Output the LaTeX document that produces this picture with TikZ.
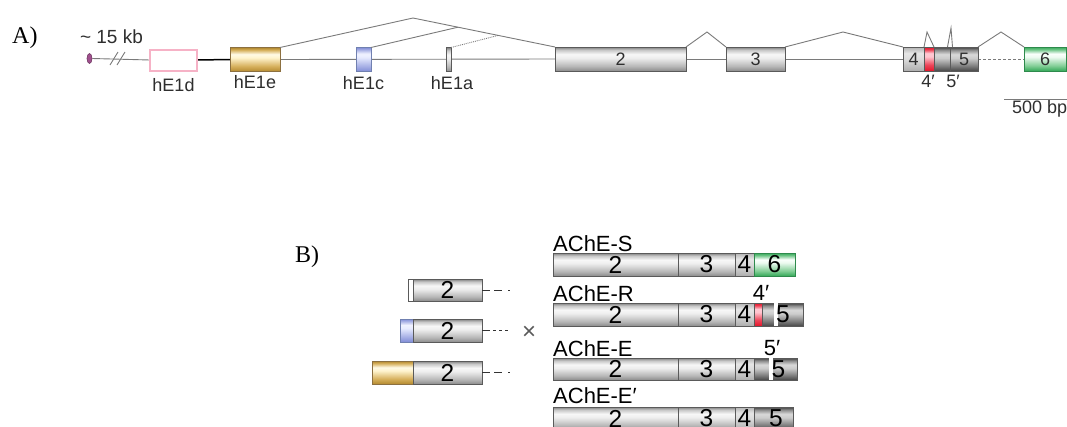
\documentclass[tikz,border=0pt]{standalone}
\usepackage{fontspec}
\setmainfont{Liberation Sans}
\newfontfamily\seriffont{Liberation Serif}
\usetikzlibrary{backgrounds,calc,shapes.geometric}
\definecolor{introncol}{HTML}{7A7A7A}
\definecolor{exedge}{HTML}{5A5A5A}
\definecolor{golddraw}{HTML}{8C7040}
\definecolor{bluedraw}{HTML}{7080B0}
\definecolor{greendraw}{HTML}{2E8A4C}
\definecolor{pinkline}{HTML}{F6B2C6}
\definecolor{purp}{HTML}{A0508E}
\definecolor{lbltxt}{HTML}{2E2E2E}
% vertical shadings: 25bp = bottom edge, 75bp = top edge
\pgfdeclareverticalshading{gshade}{100bp}{color(0bp)=(black!45); color(25bp)=(black!45); color(35bp)=(black!28); color(52bp)=(black!7); color(60bp)=(black!3); color(69bp)=(black!22); color(75bp)=(black!50); color(100bp)=(black!50)}
\pgfdeclareverticalshading{dshade}{100bp}{color(0bp)=(black!72); color(25bp)=(black!72); color(36bp)=(black!50); color(52bp)=(black!20); color(60bp)=(black!15); color(69bp)=(black!45); color(75bp)=(black!75); color(100bp)=(black!75)}
\pgfdeclareverticalshading{lshade}{100bp}{color(0bp)=(black!32); color(25bp)=(black!32); color(50bp)=(black!14); color(62bp)=(black!10); color(75bp)=(black!30); color(100bp)=(black!30)}
\pgfdeclareverticalshading{goldshade}{100bp}{color(0bp)=(rgb,255:red,180;green,138;blue,48); color(25bp)=(rgb,255:red,180;green,138;blue,48); color(36bp)=(rgb,255:red,214;green,176;blue,92); color(54bp)=(rgb,255:red,255;green,244;blue,206); color(61bp)=(rgb,255:red,255;green,250;blue,230); color(70bp)=(rgb,255:red,214;green,176;blue,92); color(75bp)=(rgb,255:red,176;green,134;blue,44); color(100bp)=(rgb,255:red,176;green,134;blue,44)}
\pgfdeclareverticalshading{blueshade}{100bp}{color(0bp)=(rgb,255:red,128;green,140;blue,214); color(25bp)=(rgb,255:red,128;green,140;blue,214); color(55bp)=(rgb,255:red,232;green,236;blue,255); color(62bp)=(rgb,255:red,240;green,242;blue,255); color(75bp)=(rgb,255:red,128;green,140;blue,214); color(100bp)=(rgb,255:red,128;green,140;blue,214)}
\pgfdeclareverticalshading{greenshade}{100bp}{color(0bp)=(rgb,255:red,52;green,168;blue,88); color(25bp)=(rgb,255:red,52;green,168;blue,88); color(36bp)=(rgb,255:red,130;green,206;blue,150); color(54bp)=(rgb,255:red,236;green,250;blue,240); color(61bp)=(rgb,255:red,250;green,255;blue,252); color(70bp)=(rgb,255:red,110;green,196;blue,134); color(75bp)=(rgb,255:red,52;green,168;blue,88); color(100bp)=(rgb,255:red,52;green,168;blue,88)}
\pgfdeclareverticalshading{redshade}{100bp}{color(0bp)=(rgb,255:red,226;green,20;blue,40); color(25bp)=(rgb,255:red,226;green,20;blue,40); color(38bp)=(rgb,255:red,236;green,70;blue,90); color(55bp)=(rgb,255:red,255;green,196;blue,206); color(62bp)=(rgb,255:red,255;green,200;blue,210); color(70bp)=(rgb,255:red,236;green,60;blue,80); color(75bp)=(rgb,255:red,226;green,20;blue,40); color(100bp)=(rgb,255:red,226;green,20;blue,40)}
\tikzset{
  seg/.style={inner sep=0pt, outer sep=0pt, minimum height=24pt, line width=0.8pt,
    draw=exedge, text=lbltxt, font=\fontsize{18}{18}\selectfont},
  gex/.style={seg, shading=gshade},
  dex/.style={seg, shading=dshade},
  lex/.style={seg, shading=lshade},
  goldex/.style={seg, draw=golddraw, shading=goldshade},
  blueex/.style={seg, draw=bluedraw, shading=blueshade},
  greenex/.style={seg, draw=greendraw, shading=greenshade},
  redex/.style={seg, draw=exedge, shading=redshade},
  bseg/.style={minimum height=23pt, font=\fontsize{24.5}{24.5}\selectfont, text=black},
  intron/.style={draw=introncol, line width=0.9pt},
  lbl/.style={font=\fontsize{18}{18}\selectfont, text=lbltxt, inner sep=0pt, anchor=base},
  blbl/.style={font=\fontsize{22}{22}\selectfont, text=black, inner sep=0pt, anchor=base west},
  panel/.style={font=\seriffont\fontsize{24}{24}\selectfont, inner sep=0pt, anchor=base west},
  gapbox/.style={fill=white, inner sep=0pt, outer sep=0pt, minimum width=3.5pt, minimum height=23.5pt},
  numlbl/.style={font=\fontsize{24.5}{24.5}\selectfont, text=black, inner sep=0pt},
}
\begin{document}
\begin{tikzpicture}[x=1pt,y=-1pt]
\useasboundingbox (0,0) rectangle (1067,426);

% ---------- Panel A ----------
\node[panel] (pa) at (12,43) {A)};
\node[lbl, font=\fontsize{19}{19}\selectfont] (kb) at (111.5,43) {\~{} 15 kb};

\node[ellipse, draw=purp!70!black, fill=purp, line width=0.6pt, minimum width=5pt, minimum height=10pt, inner sep=0pt] (cap) at (89.5,58.5) {};
\node[seg, draw=pinkline, fill=white, line width=2pt, minimum width=47pt, minimum height=21pt] (e1d) at (173.5,60) {};
\node[goldex, minimum width=50pt] (e1e) at (255,59.5) {};
\node[blueex, minimum width=15pt] (e1c) at (363.5,59.5) {};
\node[gex, minimum width=5pt] (e1a) at (448.5,59.5) {};
\node[gex, minimum width=131pt] (e2) at (620.5,59) {2};
\node[gex, minimum width=59pt] (e3) at (755.5,59) {3};
\node[lex, minimum width=21pt] (e4) at (913.5,59) {4};
\node[redex, minimum width=10pt] (e4p) at (929,59) {};
\node[dex, minimum width=16pt] (e5a) at (942,59) {};
\node[dex, minimum width=28pt] (e5) at (964,59) {5};
\node[greenex, minimum width=42pt] (e6) at (1045,59) {6};

\coordinate (apex1) at (413,18);
\coordinate (apex2) at (707,32);
\coordinate (apex3) at (843,32);
\coordinate (apex4) at (927,32);
\coordinate (apex5) at (951,28);
\coordinate (apex6) at (1001,32);

\begin{scope}[on background layer]
  \draw[intron] (cap.east) -- (e1d.west);
  \draw[black, line width=1.5pt] (e1d.east) -- (e1e.west);
  \draw[intron] (e1e.east) -- (e2.west);
  \draw[intron] (e2.east) -- (e3.west);
  \draw[intron] (e3.east) -- (e4.west);
  \draw[intron, dash pattern=on 3pt off 2pt] (e5.east) -- (e6.west);
\end{scope}
\draw[intron] (110,65) -- (118,52) (117,65) -- (125,52);

\draw[intron] (e1e.north east) -- (apex1) -- (e2.north west);
\draw[intron] (e1c.north east) -- ($(apex1)!0.317!(e2.north west)$);
\draw[intron, densely dotted] (e1a.north east) -- ($(apex1)!0.6!(e2.north west)$);
\draw[intron] (e2.north east) -- (apex2) -- (e3.north west);
\draw[intron] (e3.north east) -- (apex3) -- (e4.north west);
\draw[intron] (e4p.north west) -- (apex4) -- (e4p.north east);
\draw[intron] ($(e5.north west)+(-2.5,0)$) -- (apex5) -- ($(e5.north west)+(2.5,0)$);
\draw[intron] (e5.north east) -- (apex6) -- (e6.north west);

\node[lbl] (l1d) at (173.5,91) {hE1d};
\node[lbl] (l1e) at (255,88.5) {hE1e};
\node[lbl] (l1c) at (363.5,89) {hE1c};
\node[lbl] (l1a) at (452,89) {hE1a};
\node[lbl] (l4p) at (928,87) {4′};
\node[lbl] (l5p) at (953,87) {5′};

\coordinate (sb1) at (1004,99);
\coordinate (sb2) at (1067,99);
\draw[intron] (sb1) -- (sb2);
\node[lbl, anchor=base west] (bp) at (1012,113) {500 bp};

% ---------- Panel B ----------
\node[panel] (pb) at (295,262) {B)};

% left transcripts
\node[seg, fill=white, bseg, minimum width=5pt, minimum height=22pt] (r1s) at (410.5,290) {};
\node[gex, bseg, minimum width=69pt, minimum height=22pt] (r1) at (447.5,290) {2};
\node[blueex, bseg, minimum width=13pt] (r2b) at (406.5,330.5) {};
\node[gex, bseg, minimum width=69pt] (r2) at (447.5,330.5) {2};
\node[goldex, bseg, minimum width=41pt] (r3g) at (392.5,372.5) {};
\node[gex, bseg, minimum width=69pt] (r3) at (447.5,372.5) {2};

\coordinate (d1) at (509.5,290);
\coordinate (d2) at (509.5,330.5);
\coordinate (d3) at (509.5,372.5);
\draw[black!80, line width=0.9pt, dash pattern=on 8pt off 4pt on 8pt off 6pt on 1.5pt off 20pt] (r1.east) -- (d1);
\draw[black!80, line width=0.9pt, dash pattern=on 8pt off 3pt on 3pt off 3pt on 3pt off 3pt on 3pt off 20pt] (r2.east) -- (d2);
\draw[black!80, line width=0.9pt, dash pattern=on 8pt off 4pt on 8pt off 6pt on 1.5pt off 20pt] (r3.east) -- (d3);

\node[font=\fontsize{24}{24}\selectfont, text=black!65, inner sep=0pt] (cross) at (529,333) {×};

% right transcripts
\node[blbl] (ts) at (553,251) {AChE-S};
\node[gex, bseg, minimum width=125pt] (s2) at (615.5,264.5) {2};
\node[gex, bseg, minimum width=57pt] (s3) at (706.5,264.5) {3};
\node[lex, bseg, minimum width=19pt] (s4) at (744.5,264.5) {4};
\node[greenex, bseg, minimum width=41pt] (s6) at (774.5,264.5) {6};

\node[blbl] (tr) at (553,301) {AChE-R};
\node[blbl, anchor=base] (r4p) at (761,300) {4′};
\node[gex, bseg, minimum width=125pt] (rr2) at (615.5,314.5) {2};
\node[gex, bseg, minimum width=57pt] (rr3) at (706.5,314.5) {3};
\node[lex, bseg, minimum width=19pt] (rr4) at (744.5,314.5) {4};
\node[redex, bseg, minimum width=8pt] (rrr) at (758,314.5) {};
\node[dex, bseg, minimum width=41pt] (rr5) at (782.5,314.5) {};
\node[gapbox] (rgap) at (775.8,314.5) {};
\node[numlbl] (rr5l) at (783,314.5) {5};

\node[blbl] (te) at (553,356) {AChE-E};
\node[blbl, anchor=base] (e5p) at (772,355) {5′};
\node[gex, bseg, minimum width=125pt, minimum height=22pt] (ee2) at (615.5,369) {2};
\node[gex, bseg, minimum width=57pt, minimum height=22pt] (ee3) at (706.5,369) {3};
\node[lex, bseg, minimum width=19pt, minimum height=22pt] (ee4) at (744.5,369) {4};
\node[dex, bseg, minimum width=43pt, minimum height=22pt] (ee5) at (775.5,369) {};
\node[gapbox, minimum height=22.5pt] (egap) at (771,369) {};
\node[numlbl] (ee5l) at (778.5,369) {5};

\node[blbl] (tf) at (553,403) {AChE-E′};
\node[gex, bseg, minimum width=125pt] (f2) at (615.5,418.5) {2};
\node[gex, bseg, minimum width=57pt] (f3) at (706.5,418.5) {3};
\node[lex, bseg, minimum width=19pt] (f4) at (744.5,418.5) {4};
\node[dex, bseg, minimum width=39pt] (f5) at (773.5,418.5) {};
\node[numlbl] (f5l) at (776,418.5) {5};
\end{tikzpicture}
\end{document}
